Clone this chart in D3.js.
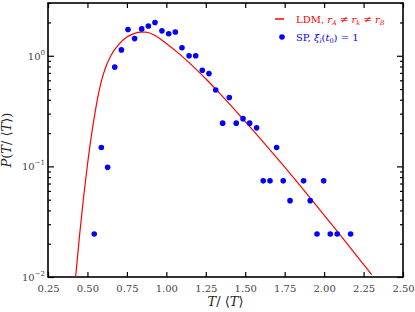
<html>
  <head>
    <meta charset="UTF-8">
    <script src="https://d3js.org/d3.v7.min.js"></script>
    <style type="text/css">
    body { margin: 0; background: #fff; }
    </style>
  </head>
  <body>
  </body>
  <script>
    var SERIF = "'DejaVu Serif', 'Liberation Serif', serif";

    // SP points (histogram of simulated T / <T>)
    var spT = [0.543, 0.588, 0.628, 0.673, 0.715, 0.757, 0.799, 0.844, 0.886, 0.928,
               0.972, 1.015, 1.057, 1.099, 1.144, 1.186, 1.228, 1.270, 1.313, 1.357,
               1.399, 1.443, 1.486, 1.528, 1.572, 1.614, 1.657, 1.699, 1.741, 1.784,
               1.870, 1.912, 1.955, 1.997, 2.039, 2.083, 2.168];
    var spP = [0.0245, 0.148, 0.098, 0.79, 1.13, 1.73, 1.43, 1.75, 1.86, 2.0,
               1.68, 1.58, 1.64, 1.18, 1.0, 1.0, 0.74, 0.69, 0.49, 0.246,
               0.42, 0.246, 0.27, 0.246, 0.223, 0.074, 0.074, 0.148, 0.074, 0.049,
               0.074, 0.049, 0.0245, 0.074, 0.0245, 0.0245, 0.0245];

    // LDM curve
    var ldmT = [0.425, 0.45, 0.475, 0.50, 0.525, 0.55, 0.575, 0.60, 0.625, 0.65,
                0.70, 0.75, 0.80, 0.833, 0.87, 0.917, 1.002, 1.086, 1.171, 1.256,
                1.340, 1.424, 1.530, 1.741, 1.910, 2.080, 2.301];
    var ldmP = [0.0100, 0.0238, 0.0518, 0.1035, 0.190, 0.318, 0.492, 0.676, 0.851, 1.012,
                1.274, 1.479, 1.596, 1.637, 1.633, 1.556, 1.285, 1.029, 0.798, 0.607,
                0.454, 0.336, 0.228, 0.102, 0.0522, 0.0262, 0.0105];

    var xTicks = [0.25, 0.50, 0.75, 1.00, 1.25, 1.50, 1.75, 2.00, 2.25, 2.50];
    var yMajor = [-2, -1, 0];

    var margin = {top: 3, right: 12, bottom: 35, left: 48},
        width = 415 - margin.left - margin.right,
        height = 312 - margin.top - margin.bottom;

    var svg = d3.select("body").append("svg")
        .attr("width", 415).attr("height", 312)
      .append("g")
        .attr("transform", "translate(" + margin.left + "," + margin.top + ")");

    var x = d3.scaleLinear().domain([0.25, 2.5]).range([0, width]);
    var y = d3.scaleLog().domain([0.01, 3]).range([height, 0]);

    svg.append("clipPath").attr("id", "clip")
      .append("rect").attr("width", width).attr("height", height);

    // minor y ticks
    var minor = [];
    [-2, -1, 0].forEach(function(e) {
      for (var k = 2; k <= 9; k++) {
        var v = k * Math.pow(10, e);
        if (v <= 3) minor.push(v);
      }
    });

    var fmtTick = function(sel) {
      sel.select(".domain").remove();
      sel.selectAll("line").attr("stroke", "#000").attr("stroke-width", 1.2);
    };

    // bottom axis
    var xb = svg.append("g").attr("transform", "translate(0," + height + ")")
      .call(d3.axisBottom(x).tickValues(xTicks).tickSizeInner(-5).tickSizeOuter(0)
        .tickPadding(8).tickFormat(d3.format(".2f")));
    fmtTick(xb);
    xb.selectAll("text").attr("fill", "#444").style("font-size", "10px");

    // top axis
    var xt = svg.append("g")
      .call(d3.axisTop(x).tickValues(xTicks).tickSizeInner(-5).tickSizeOuter(0).tickFormat(""));
    fmtTick(xt);

    // left / right major and minor ticks
    var majorVals = yMajor.map(function(e) { return Math.pow(10, e); });
    var yl = svg.append("g")
      .call(d3.axisLeft(y).tickValues(majorVals).tickSizeInner(-6).tickSizeOuter(0).tickFormat(""));
    fmtTick(yl);
    var ylm = svg.append("g")
      .call(d3.axisLeft(y).tickValues(minor).tickSizeInner(-3).tickSizeOuter(0).tickFormat(""));
    fmtTick(ylm);
    var yr = svg.append("g").attr("transform", "translate(" + width + ",0)")
      .call(d3.axisRight(y).tickValues(majorVals).tickSizeInner(-6).tickSizeOuter(0).tickFormat(""));
    fmtTick(yr);
    var yrm = svg.append("g").attr("transform", "translate(" + width + ",0)")
      .call(d3.axisRight(y).tickValues(minor).tickSizeInner(-3).tickSizeOuter(0).tickFormat(""));
    fmtTick(yrm);

    // y tick labels 10^e
    yMajor.forEach(function(e) {
      var t = svg.append("text")
        .attr("x", -3).attr("y", y(Math.pow(10, e)) + 4)
        .attr("text-anchor", "end")
        .attr("fill", "#444")
        .style("font-size", "10px");
      t.append("tspan").text("10");
      t.append("tspan").attr("dy", -5).style("font-size", "7px").text(e === 0 ? "0" : "\u2212" + (-e));
    });

    // frame
    svg.append("rect").attr("width", width).attr("height", height)
      .attr("fill", "none").attr("stroke", "#000").attr("stroke-width", 1.6);

    // LDM curve
    var ldm = ldmT.map(function(t, i) { return {t: t, p: ldmP[i]}; });
    svg.append("path")
      .datum(ldm)
      .attr("clip-path", "url(#clip)")
      .attr("fill", "none")
      .attr("stroke", "#f00")
      .attr("stroke-width", 1.2)
      .attr("d", d3.line()
        .curve(d3.curveMonotoneX)
        .x(function(d) { return x(d.t); })
        .y(function(d) { return y(d.p); }));

    // SP points
    var sp = spT.map(function(t, i) { return {t: t, p: spP[i]}; });
    svg.selectAll(".dot").data(sp).enter().append("circle")
      .attr("class", "dot")
      .attr("cx", function(d) { return x(d.t); })
      .attr("cy", function(d) { return y(d.p); })
      .attr("r", 2.8)
      .attr("fill", "#00f");

    // legend
    var lg = svg.append("g").attr("transform", "translate(" + (275 - margin.left) + "," + (19 - margin.top) + ")");
    lg.append("line").attr("x1", 0).attr("x2", 9).attr("y1", 0).attr("y2", 0)
      .attr("stroke", "#f00").attr("stroke-width", 1.5);
    var l1 = lg.append("text").attr("x", 21).attr("y", 4).attr("fill", "#f00").style("font-size", "10px");
    l1.append("tspan").text("LDM, ");
    l1.append("tspan").style("font-style", "italic").text("r");
    l1.append("tspan").attr("dy", 2).style("font-size", "6.5px").style("font-style", "italic").text("A");
    l1.append("tspan").attr("dy", -2).text(" \u2260 ");
    l1.append("tspan").style("font-style", "italic").text("r");
    l1.append("tspan").attr("dy", 2).style("font-size", "6.5px").style("font-style", "italic").text("k");
    l1.append("tspan").attr("dy", -2).text(" \u2260 ");
    l1.append("tspan").style("font-style", "italic").text("r");
    l1.append("tspan").attr("dy", 2).style("font-size", "6.5px").style("font-style", "italic").text("B");

    lg.append("circle").attr("cx", 7).attr("cy", 18).attr("r", 2.8).attr("fill", "#00f");
    var l2 = lg.append("text").attr("x", 21).attr("y", 22).attr("fill", "#00f").style("font-size", "10px");
    l2.append("tspan").text("SP, ");
    l2.append("tspan").style("font-style", "italic").text("\u03be");
    l2.append("tspan").attr("dy", 2).style("font-size", "6.5px").style("font-style", "italic").text("i");
    l2.append("tspan").attr("dy", -2).text("(");
    l2.append("tspan").style("font-style", "italic").text("t");
    l2.append("tspan").attr("dy", 2).style("font-size", "6.5px").text("0");
    l2.append("tspan").attr("dy", -2).text(") = 1");

    // axis labels
    var xl = svg.append("text")
      .attr("x", width / 2).attr("y", height + 29)
      .attr("text-anchor", "middle").attr("fill", "#222")
      .style("font-size", "13px");
    xl.append("tspan").style("font-style", "italic").text("T");
    xl.append("tspan").text("/ \u27e8");
    xl.append("tspan").style("font-style", "italic").text("T");
    xl.append("tspan").text("\u27e9");

    var ylab = svg.append("text")
      .attr("transform", "translate(" + (-37) + "," + (height / 2) + ") rotate(-90)")
      .attr("text-anchor", "middle").attr("fill", "#222")
      .style("font-size", "13px");
    ylab.append("tspan").style("font-style", "italic").text("P");
    ylab.append("tspan").text("(");
    ylab.append("tspan").style("font-style", "italic").text("T");
    ylab.append("tspan").text("/ \u27e8");
    ylab.append("tspan").style("font-style", "italic").text("T");
    ylab.append("tspan").text("\u27e9)");

    svg.selectAll("text").style("font-family", SERIF);
  </script>
</html>
